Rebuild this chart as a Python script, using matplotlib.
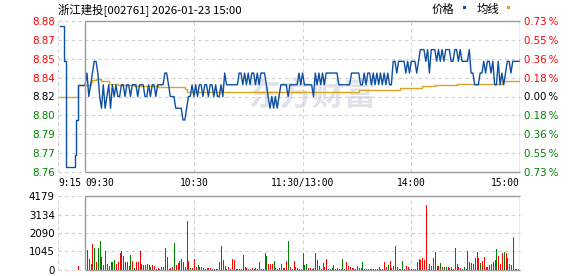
import numpy as np
import matplotlib
matplotlib.use('Agg')
import matplotlib.pyplot as plt
from matplotlib.patches import Rectangle
from matplotlib.transforms import blended_transform_factory

plt.rcParams['font.family'] = ['DejaVu Sans']

title = '浙江建投[002761] 2026-01-23 15:00'
pre_close = 8.82
price_labels = ['8.88', '8.87', '8.85', '8.84', '8.82', '8.80', '8.79', '8.77', '8.76']
pct_labels = ['0.73', '0.55', '0.36', '0.18', '0.00', '0.18', '0.36', '0.55', '0.73']
vol_labels = [0, 1045, 2090, 3134, 4179]
time_labels = ['9:15', '09:30', '10:30', '11:30/13:00', '14:00', '15:00']
time_pos = [0, 15, 75, 135, 195, 255]   # minutes from 9:15, lunch removed

# call auction (minutes after 9:15)
pre_t = [1.1, 3.4, 4.3, 4.5, 9.4, 9.9, 10.9]
pre_price = [8.88, 8.85, 8.79, 8.76, 8.77, 8.80, 8.83]
pre_avg_t = [1.1, 10.9]
pre_avg = [8.82, 8.83]
pre_vol = 216

# one value per minute, 09:30 .. 15:00
prices = [
    8.83, 8.84, 8.82, 8.83, 8.84, 8.85, 8.85, 8.84, 8.82, 8.81,
    8.83, 8.81, 8.82, 8.83, 8.81, 8.83, 8.82, 8.83, 8.82, 8.82,
    8.83, 8.83, 8.82, 8.83, 8.83, 8.82, 8.83, 8.83, 8.83, 8.82,
    8.83, 8.83, 8.83, 8.82, 8.82, 8.83, 8.82, 8.83, 8.83, 8.82,
    8.83, 8.83, 8.83, 8.83, 8.84, 8.84, 8.83, 8.82, 8.82, 8.82,
    8.81, 8.81, 8.81, 8.81, 8.80, 8.80, 8.81, 8.82, 8.82, 8.83,
    8.82, 8.83, 8.82, 8.83, 8.83, 8.82, 8.83, 8.83, 8.82, 8.83,
    8.83, 8.82, 8.83, 8.82, 8.82, 8.83, 8.82, 8.84, 8.83, 8.83,
    8.83, 8.83, 8.83, 8.83, 8.83, 8.84, 8.84, 8.83, 8.84, 8.83,
    8.84, 8.83, 8.84, 8.84, 8.83, 8.84, 8.83, 8.84, 8.84, 8.84,
    8.83, 8.82, 8.81, 8.82, 8.81, 8.82, 8.81, 8.82, 8.83, 8.83,
    8.83, 8.83, 8.82, 8.83, 8.83, 8.83, 8.83, 8.83, 8.84, 8.83,
    8.84, 8.83, 8.83, 8.83, 8.83, 8.83, 8.82, 8.84, 8.83, 8.84,
    8.83, 8.84, 8.83, 8.84, 8.84, 8.84, 8.84, 8.84, 8.84, 8.84,
    8.83, 8.83, 8.83, 8.83, 8.83, 8.83, 8.83, 8.84, 8.84, 8.84,
    8.84, 8.84, 8.83, 8.83, 8.84, 8.83, 8.84, 8.84, 8.83, 8.84,
    8.83, 8.84, 8.83, 8.84, 8.83, 8.84, 8.83, 8.84, 8.83, 8.83,
    8.85, 8.85, 8.84, 8.85, 8.85, 8.85, 8.85, 8.84, 8.85, 8.84,
    8.85, 8.85, 8.85, 8.84, 8.85, 8.86, 8.86, 8.86, 8.85, 8.86,
    8.84, 8.86, 8.86, 8.86, 8.85, 8.86, 8.85, 8.86, 8.85, 8.86,
    8.86, 8.86, 8.85, 8.85, 8.86, 8.86, 8.85, 8.86, 8.85, 8.85,
    8.85, 8.85, 8.86, 8.84, 8.84, 8.83, 8.83, 8.83, 8.84, 8.84,
    8.85, 8.84, 8.85, 8.85, 8.84, 8.85, 8.83, 8.83, 8.85, 8.83,
    8.84, 8.83, 8.84, 8.85, 8.85, 8.84, 8.85, 8.85, 8.85, 8.85,
    8.85,
]

# average price line, read as steps (minute index -> value)
avg_idx = [0, 3, 4, 6, 9, 13, 18, 27, 40, 55, 56, 151, 174, 186, 193, 205, 230, 240]
avg_val = [8.830, 8.832, 8.834, 8.835, 8.833, 8.831, 8.830, 8.829, 8.828, 8.826,
           8.824, 8.8255, 8.827, 8.829, 8.830, 8.831, 8.833, 8.833]

volumes = [
    380,
    1140, 600, 325, 1460, 1240, 430, 1230, 1620, 760, 270,
    1080, 325, 234, 430, 430, 540, 325, 430, 970, 1045,
    810, 450, 450, 216, 860, 490, 90, 450, 430, 1045,
    360, 306, 306, 325, 288, 180, 270, 252, 72, 90,
    72, 144, 180, 1260, 756, 72, 90, 144, 1510, 270,
    396, 490, 610, 450, 180, 2750, 490, 90, 126, 630,
    180, 270, 144, 180, 90, 72, 108, 90, 90, 72,
    72, 72, 72, 430, 1350, 576, 216, 72, 180, 72,
    630, 540, 72, 72, 72, 72, 860, 180, 108, 72,
    72, 90, 72, 108, 72, 430, 72, 72, 970, 810,
    360, 360, 325, 490, 108, 72, 108, 360, 108, 108,
    500, 1620,
    144, 72, 490, 144, 108, 72, 72, 940, 270, 325,
    90, 90, 72, 90, 940, 540, 216, 72, 396, 180,
    610, 72, 72, 90, 288, 72, 90, 72, 72, 610,
    72, 430, 216, 180, 90, 90, 72, 216, 108, 108,
    430, 72, 72, 72, 72, 72, 72, 72, 72, 180,
    72, 72, 430, 144, 270, 500, 90, 216, 1350, 180,
    72, 72, 490, 72, 216, 180, 72, 72, 72, 72,
    430, 610, 540, 670, 540, 3670, 72, 325, 252, 650,
    1030, 216, 216, 378, 144, 180, 144, 144, 108, 144,
    72, 1240, 325, 144, 108, 72, 144, 72, 1080, 430,
    396, 360, 700, 1010, 650, 396, 500, 720, 180, 180,
    288, 325, 430, 540, 1190, 790, 360, 970, 1010, 940,
    680, 325, 288, 1840, 72, 72, 72, 1400,
]
vol_dir = ("r"
           "rgrrgrggrg" "rggrggrrrg" "rrrggrgrrr" "grrrrgrrgr" "rrrrgrrrgr"
           "rggrgrrgrr" "rgrrrggrrr" "rrrrrrrrrr" "rrrrrrrrrr" "rrrrrrrggg"
           "rrrgrgrrrr" "rg"
           "rrrrrrrggg" "rrrrgrrrrr" "rrrgrrrrrg" "rrrrrrrrrr" "grrrrrrrrr"
           "rrrrgrrrrr" "rrgrrrrrrr" "grrrrrrrrg" "rrrgrggrrr" "rgrrrggrrr"
           "grrgrgrrrg" "rrgggrrrgr" "grrgrrrr")

BLUE = '#0d4fa3'
GOLD = '#daa520'
RED = '#ff0000'
GREEN = '#008000'
GRID = '#cfcfcf'
BOX = '#9a9a9a'
W, H = 578, 276

fig = plt.figure(figsize=(W / 100, H / 100), dpi=100)
axp = fig.add_axes([58 / W, (H - 172) / H, 462 / W, 151 / H])
axv = fig.add_axes([58 / W, (H - 270) / H, 462 / W, 74 / H])

lim = pre_close * 0.0073
levels = np.linspace(pre_close + lim, pre_close - lim, len(price_labels))
t_main = 15 + np.arange(len(prices))

for ax, ylo, yhi, ylev in [(axp, pre_close - lim, pre_close + lim, levels),
                           (axv, 0, vol_labels[-1], vol_labels)]:
    ax.set_xlim(0, 255)
    ax.set_ylim(ylo, yhi)
    for s in ax.spines.values():
        s.set_visible(False)
    for y in ylev:
        ax.axhline(y, color=GRID, lw=0.8, ls=(0, (3, 3)), zorder=1, clip_on=False)
    for t in [0, 75, 135, 195]:
        ax.axvline(t, color=GRID, lw=0.8, ls=(0, (3, 3)), zorder=1)
    ax.vlines([15, 255], ylo, yhi, color=BOX, lw=1.0, zorder=4)
    ax.hlines([ylo, yhi], 15, 255, color=BOX, lw=1.0, zorder=4, clip_on=False)
    ax.set_xticks([])
    ax.tick_params(axis='y', length=0, pad=2.2, labelsize=7.4)

# watermark
axp.text(0.55, 0.5, '东方财富', transform=axp.transAxes, ha='center', va='center',
         fontsize=23, fontweight='bold', color='#e1e1e8', zorder=0,
         family=['Noto Sans CJK SC', 'DejaVu Sans'])

# price + average
axp.step(pre_avg_t + list(15 + np.array(avg_idx)), pre_avg + avg_val,
         where='post', color=GOLD, lw=1.0, zorder=3)
axp.step(pre_t + [15], pre_price + [pre_price[-1]], where='post', color=BLUE, lw=1.0, zorder=3)
axp.plot(t_main, prices, color=BLUE, lw=1.0, zorder=3)

axp.set_yticks(levels)
axp.set_yticklabels(price_labels)
for lab, y in zip(axp.get_yticklabels(), levels):
    lab.set_color(RED if y > pre_close + 1e-9 else (GREEN if y < pre_close - 1e-9 else 'black'))

axr = axp.twinx()
axr.set_ylim(axp.get_ylim())
for s in axr.spines.values():
    s.set_visible(False)
axr.set_yticks(levels)
axr.set_yticklabels([p + '\u2009%' for p in pct_labels])
axr.tick_params(axis='y', length=0, pad=3, labelsize=7.4)
for lab, y in zip(axr.get_yticklabels(), levels):
    lab.set_color(RED if y > pre_close + 1e-9 else (GREEN if y < pre_close - 1e-9 else 'black'))

# time labels
tr = blended_transform_factory(axp.transData, axp.transAxes)
aligns = ['left', 'left', 'center', 'center', 'center', 'right']
for lab, t, ha in zip(time_labels, time_pos, aligns):
    axp.annotate(lab, xy=(t, 0), xycoords=tr, xytext=(0, -7.6), textcoords='offset points',
                 ha=ha, va='center', fontsize=6.9, family='DejaVu Sans Mono')

# volume
vcols = [RED if c == 'r' else GREEN for c in vol_dir]
axv.vlines(t_main, 0, volumes, colors=vcols, lw=0.68, antialiased=False, zorder=3)
axv.vlines([pre_t[-1]], 0, [pre_vol], colors=RED, lw=0.68, antialiased=False, zorder=3)
axv.set_yticks(vol_labels)
axv.set_yticklabels([str(v) for v in vol_labels])

# title + legend
cjk = ['Noto Sans CJK SC', 'DejaVu Sans']
fig.text(58 / W, 1 - 10 / H, title, ha='left', va='center', fontsize=8.2, family=cjk)
fig.text(431.5 / W, 1 - 9.5 / H, '价格', ha='left', va='center', fontsize=8.2, family=cjk)
fig.text(476.5 / W, 1 - 9.5 / H, '均线', ha='left', va='center', fontsize=8.2, family=cjk)
fig.add_artist(Rectangle((463 / W, 1 - 8.8 / H), 3.4 / W, 2.8 / H, transform=fig.transFigure,
                         color=BLUE, lw=0))
fig.add_artist(Rectangle((507 / W, 1 - 8.8 / H), 3.4 / W, 2.8 / H, transform=fig.transFigure,
                         color=GOLD, lw=0))

fig.savefig('out.png', dpi=100)
